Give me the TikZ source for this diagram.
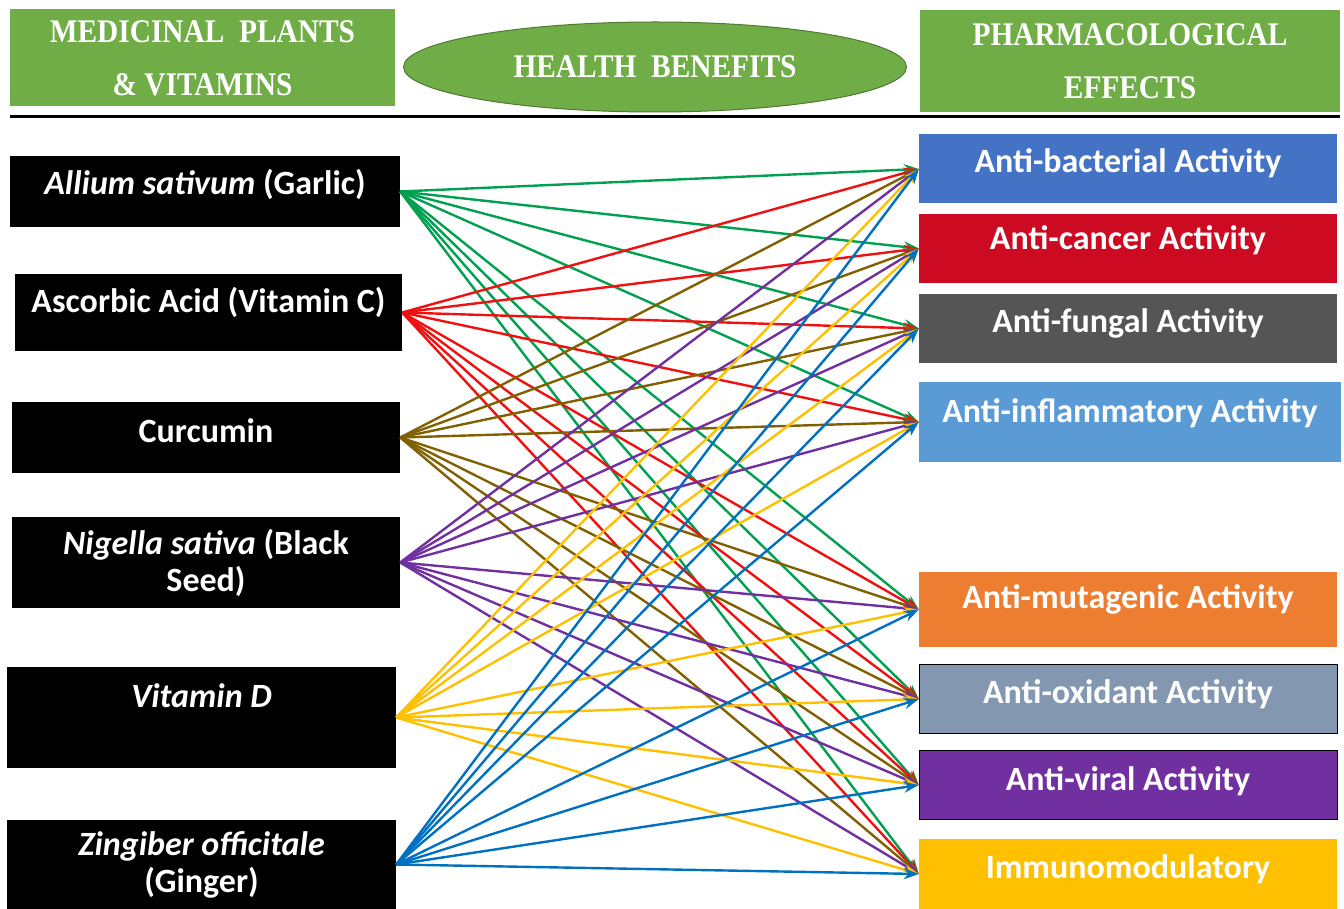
\documentclass[tikz,border=0pt]{standalone}
\usepackage{fontspec}
\setmainfont{Carlito}
\newfontfamily\hdrfont[FakeStretch=0.89]{Liberation Serif}
\usetikzlibrary{arrows.meta,shapes.geometric}

\definecolor{hgreen}{HTML}{70AD47}
\definecolor{cbact}{HTML}{4472C4}
\definecolor{ccanc}{HTML}{CC0A22}
\definecolor{cfung}{HTML}{555555}
\definecolor{cinfl}{HTML}{5B9BD5}
\definecolor{cmuta}{HTML}{ED7D31}
\definecolor{coxid}{HTML}{8497B0}
\definecolor{cvira}{HTML}{7030A0}
\definecolor{cimmu}{HTML}{FFC000}
\definecolor{lgarlic}{HTML}{00A050}
\definecolor{lascorb}{HTML}{F01010}
\definecolor{lcurc}{HTML}{806000}
\definecolor{lnig}{HTML}{7030A0}
\definecolor{lvitd}{HTML}{FFC000}
\definecolor{lging}{HTML}{0070C0}

\begin{document}
\begin{tikzpicture}[x=1pt,y=-1pt,
   hdr/.style={fill=hgreen,text=white,align=center,inner sep=0pt,
     font=\hdrfont\bfseries\fontsize{33}{53}\selectfont},
   src/.style={fill=black,text=white,align=center,inner sep=0pt,
     font=\bfseries\fontsize{34}{37}\selectfont},
   eff/.style={fill=#1,text=white,inner sep=0pt,minimum width=418pt,minimum height=69pt,
     font=\bfseries\fontsize{34}{37}\selectfont},
   lift/.style={text height=26pt,text depth=#1},
   lnk/.style={line width=2.4pt,-{Stealth[length=15pt,width=11pt]}}]

   \useasboundingbox (0,0) rectangle (1344,909);

   % headings
   \node[hdr,minimum width=385pt,minimum height=97pt] (plants) at (202.5,58)
     {MEDICINAL\ \ PLANTS\\\& VITAMINS};
   \node[hdr,ellipse,draw=hgreen!70!black,line width=1pt,minimum width=503pt,minimum height=90pt]
     (benefit) at (655,67) {HEALTH\ \ BENEFITS};
   \node[hdr,minimum width=420pt,minimum height=102pt] (pharm) at (1130,61)
     {PHARMACOLOGICAL\\EFFECTS};
   \draw[line width=3pt] (10,117) -- (1340,117);

   % plants and vitamins
   \node[src,lift=19pt,minimum width=390pt,minimum height=71pt] (garlic) at (205,191.5)
     {\textit{Allium sativum} (Garlic)};
   \node[src,lift=26pt,minimum width=387pt,minimum height=77pt] (ascorb) at (208.5,312.5)
     {Ascorbic Acid (Vitamin C)};
   \node[src,lift=17pt,minimum width=388pt,minimum height=71pt] (curc) at (206,437.5)
     {Curcumin};
   \node[src,minimum width=388pt,minimum height=91pt] (nigella) at (206,562.5)
     {\textit{Nigella sativa} (Black\\Seed)};
   \node[src,lift=46pt,minimum width=389pt,minimum height=101pt] (vitd) at (201.5,717.5)
     {\textit{Vitamin D}};
   \node[src,minimum width=389pt,minimum height=89pt] (ginger) at (201.5,864.5)
     {\textit{Zingiber officitale}\\(Ginger)};

   % effects
   \node[eff=cbact,lift=18pt] (bact) at (1128,169) {Anti-bacterial Activity};
   \node[eff=ccanc,lift=23pt] (canc) at (1128,248.5) {Anti-cancer Activity};
   \node[eff=cfung,lift=19pt] (fung) at (1128,328.5) {Anti-fungal Activity};
   \node[eff=cinfl,lift=26pt,minimum width=422pt,minimum height=80pt] (infl) at (1130,422)
     {Anti-inflammatory Activity};
   \node[eff=cmuta,lift=29pt,minimum height=75pt] (muta) at (1128,609.5) {Anti-mutagenic Activity};
   \node[eff=coxid,draw=black,lift=18pt] (oxid) at (1128,699) {Anti-oxidant Activity};
   \node[eff=cvira,draw=black,lift=16pt] (vira) at (1128,785) {Anti-viral Activity};
   \node[eff=cimmu,lift=18pt,minimum height=70pt] (immu) at (1128,874) {Immunomodulatory};

   % links
   \path[lnk,lgarlic] (garlic.east) edge (bact.west) edge (canc.west) edge (fung.west)
     edge (infl.west) edge (muta.west) edge (oxid.west) edge (vira.west) edge (immu.west);
   \path[lnk,lascorb] (ascorb.east) edge (bact.west) edge (canc.west) edge (fung.west)
     edge (infl.west) edge (muta.west) edge (oxid.west) edge (vira.west) edge (immu.west);
   \path[lnk,lcurc] (curc.east) edge (bact.west) edge (canc.west) edge (fung.west)
     edge (infl.west) edge (muta.west) edge (oxid.west) edge (vira.west) edge (immu.west);
   \path[lnk,lnig] (nigella.east) edge (bact.west) edge (canc.west) edge (fung.west)
     edge (infl.west) edge (muta.west) edge (oxid.west) edge (vira.west) edge (immu.west);
   \path[lnk,lvitd] (vitd.east) edge (bact.west) edge (canc.west) edge (fung.west)
     edge (infl.west) edge (muta.west) edge (oxid.west) edge (vira.west) edge (immu.west);
   \path[lnk,lging] (ginger.east) edge (bact.west) edge (canc.west) edge (fung.west)
     edge (infl.west) edge (muta.west) edge (oxid.west) edge (vira.west) edge (immu.west);
\end{tikzpicture}
\end{document}
